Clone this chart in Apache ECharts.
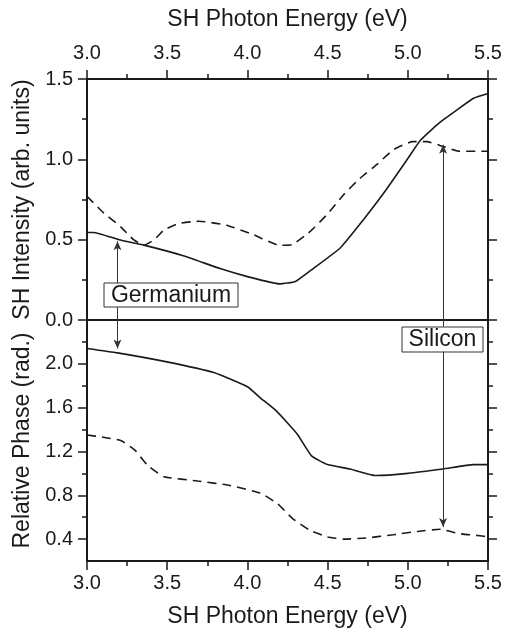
<!DOCTYPE html>
<html>
<head>
<meta charset="utf-8">
<script src="https://cdn.jsdelivr.net/npm/echarts@6/dist/echarts.min.js"></script>
<style>
html, body { margin: 0; padding: 0; background: #fff; }
#chart { width: 506px; height: 629px; }
</style>
</head>
<body>
<div id="chart"></div>
<script>
// SH intensity vs photon energy, [eV, value]
var geIntensity = [
    [3.00, 0.545], [3.04, 0.545], [3.20, 0.50], [3.355, 0.466], [3.60, 0.40], [3.83, 0.32],
    [4.00, 0.27], [4.20, 0.225], [4.30, 0.24], [4.41, 0.32], [4.58, 0.45], [4.72, 0.62],
    [4.85, 0.79], [4.99, 0.99], [5.08, 1.12], [5.20, 1.23], [5.31, 1.31], [5.41, 1.38], [5.50, 1.41]
];
var siIntensity = [
    [3.00, 0.77], [3.10, 0.67], [3.21, 0.58], [3.29, 0.50], [3.355, 0.466], [3.42, 0.50],
    [3.48, 0.56], [3.57, 0.60], [3.70, 0.615], [3.87, 0.59], [4.04, 0.53],
    [4.20, 0.465], [4.28, 0.47], [4.39, 0.55], [4.50, 0.66], [4.60, 0.78], [4.70, 0.88],
    [4.81, 0.97], [4.91, 1.06], [5.03, 1.11], [5.12, 1.11], [5.22, 1.08], [5.32, 1.05], [5.50, 1.05]
];
// relative phase (rad.)
var gePhase = [
    [3.00, 2.14], [3.19, 2.10], [3.49, 2.02], [3.79, 1.92], [4.00, 1.79], [4.08, 1.69],
    [4.18, 1.57], [4.31, 1.36], [4.40, 1.16], [4.50, 1.08], [4.64, 1.04], [4.80, 0.98],
    [5.00, 1.00], [5.22, 1.04], [5.41, 1.08], [5.50, 1.08]
];
var siPhase = [
    [3.00, 1.35], [3.10, 1.33], [3.21, 1.30], [3.30, 1.21], [3.38, 1.07], [3.48, 0.97],
    [3.69, 0.93], [3.89, 0.89], [4.08, 0.82], [4.19, 0.72], [4.28, 0.59],
    [4.39, 0.48], [4.50, 0.42], [4.60, 0.40], [4.74, 0.41], [4.91, 0.44], [5.06, 0.47],
    [5.20, 0.49], [5.32, 0.45], [5.45, 0.43], [5.50, 0.42]
];
var phaseMajor = [0.4, 0.8, 1.2, 1.6, 2.0];
var phaseMinor = [0.6, 1.0, 1.4, 1.8, 2.2];
var geArrowE = 3.19;
var siArrowE = 5.22;

var ink = '#1a1a1a';
var font = 'Liberation Sans, Arial, sans-serif';

var chart = echarts.init(document.getElementById('chart'), null, { renderer: 'canvas' });

function xAx(grid, pos, showLabels, name) {
    return {
        type: 'value', gridIndex: grid, position: pos, min: 3, max: 5.5, interval: 0.5,
        name: name, nameLocation: 'middle', nameGap: pos === 'top' ? 48 : 44,
        nameTextStyle: { fontFamily: font, fontSize: 23, color: ink },
        axisLine: { show: true, onZero: false, lineStyle: { color: ink, width: 2 } },
        axisTick: { show: showLabels, length: 9, lineStyle: { color: ink, width: 1.5 } },
        minorTick: { show: showLabels, splitNumber: 2, length: 5, lineStyle: { color: ink, width: 1.5 } },
        axisLabel: {
            show: showLabels, margin: pos === 'top' ? 16 : 12,
            fontFamily: font, fontSize: 20, color: ink,
            formatter: function (v) { return v.toFixed(1); }
        },
        splitLine: { show: false }
    };
}

function phaseAx(pos, ticks, len, withLabels, name) {
    return {
        type: 'value', gridIndex: 1, position: pos, min: 0.2, max: 2.4, interval: 0.2,
        name: name, nameLocation: 'middle', nameGap: 47,
        nameTextStyle: { fontFamily: font, fontSize: 23, color: ink },
        axisLine: { show: true, onZero: false, lineStyle: { color: ink, width: 2 } },
        axisTick: { show: true, customValues: ticks, length: len, lineStyle: { color: ink, width: 1.5 } },
        axisLabel: {
            show: withLabels, customValues: phaseMajor, margin: 14,
            fontFamily: font, fontSize: 20, color: ink,
            formatter: function (v) { return v.toFixed(1); }
        },
        splitLine: { show: false }
    };
}

function intAx(pos, withLabels, name) {
    return {
        type: 'value', gridIndex: 0, position: pos, min: 0, max: 1.5, interval: 0.5,
        name: name, nameLocation: 'middle', nameGap: 47,
        nameTextStyle: { fontFamily: font, fontSize: 23, color: ink },
        axisLine: { show: true, onZero: false, lineStyle: { color: ink, width: 2 } },
        axisTick: { show: true, length: 9, lineStyle: { color: ink, width: 1.5 } },
        minorTick: { show: true, splitNumber: 2, length: 5, lineStyle: { color: ink, width: 1.5 } },
        axisLabel: {
            show: withLabels, margin: 14, fontFamily: font, fontSize: 20, color: ink,
            formatter: function (v) { return v.toFixed(1); }
        },
        splitLine: { show: false }
    };
}

function arrow(from, to, head) {
    return [
        { coord: from, symbol: 'none' },
        { coord: to, symbol: head ? 'arrow' : 'none' }
    ];
}

var markStyle = {
    silent: true,
    symbolSize: [6, 9],
    label: { show: false },
    lineStyle: { color: '#333', width: 1, type: 'solid' },
    emphasis: { disabled: true }
};

function lineSeries(data, xi, yi, dashed, marks) {
    return {
        type: 'line', xAxisIndex: xi, yAxisIndex: yi, data: data,
        showSymbol: false, smooth: 0.15, z: 3,
        lineStyle: { color: ink, width: 1.6, type: dashed ? [9, 6] : 'solid' },
        markLine: Object.assign({ data: marks }, markStyle)
    };
}

var option = {
    animation: false,
    backgroundColor: '#fff',
    grid: [
        { left: 87, right: 18, top: 79, height: 241 },
        { left: 87, right: 18, top: 320, height: 241 }
    ],
    xAxis: [
        xAx(0, 'top', true, 'SH Photon Energy (eV)'),
        xAx(0, 'bottom', false, ''),
        xAx(1, 'bottom', true, 'SH Photon Energy (eV)')
    ],
    yAxis: [
        intAx('left', true, 'SH Intensity (arb. units)'),
        intAx('right', false, ''),
        phaseAx('left', phaseMajor, 9, true, 'Relative Phase (rad.)'),
        phaseAx('left', phaseMinor, 5, false, ''),
        phaseAx('right', phaseMajor, 9, false, ''),
        phaseAx('right', phaseMinor, 5, false, '')
    ],
    series: [
        lineSeries(geIntensity, 0, 0, false, [
            arrow([geArrowE, 0.23], [geArrowE, 0.49], true),
            arrow([geArrowE, 0.08], [geArrowE, 0], false)
        ]),
        lineSeries(siIntensity, 0, 0, true, [
            arrow([siArrowE, 0], [siArrowE, 1.09], true)
        ]),
        lineSeries(gePhase, 2, 2, false, [
            arrow([geArrowE, 2.4], [geArrowE, 2.14], true)
        ]),
        lineSeries(siPhase, 2, 2, true, [
            arrow([siArrowE, 2.34], [siArrowE, 2.4], false),
            arrow([siArrowE, 2.11], [siArrowE, 0.51], true)
        ])
    ],
    graphic: [
        {
            type: 'group', z: 100,
            children: [
                { type: 'rect', shape: { x: 104, y: 283, width: 134, height: 24 },
                  style: { fill: '#fff', stroke: '#333', lineWidth: 1 } },
                { type: 'text', x: 171, y: 296,
                  style: { text: 'Germanium', font: '23px ' + font, fill: ink, align: 'center', verticalAlign: 'middle' } },
                { type: 'rect', shape: { x: 402, y: 327, width: 81, height: 25 },
                  style: { fill: '#fff', stroke: '#333', lineWidth: 1 } },
                { type: 'text', x: 442.5, y: 340,
                  style: { text: 'Silicon', font: '23px ' + font, fill: ink, align: 'center', verticalAlign: 'middle' } }
            ]
        }
    ]
};

chart.setOption(option);
</script>
</body>
</html>
